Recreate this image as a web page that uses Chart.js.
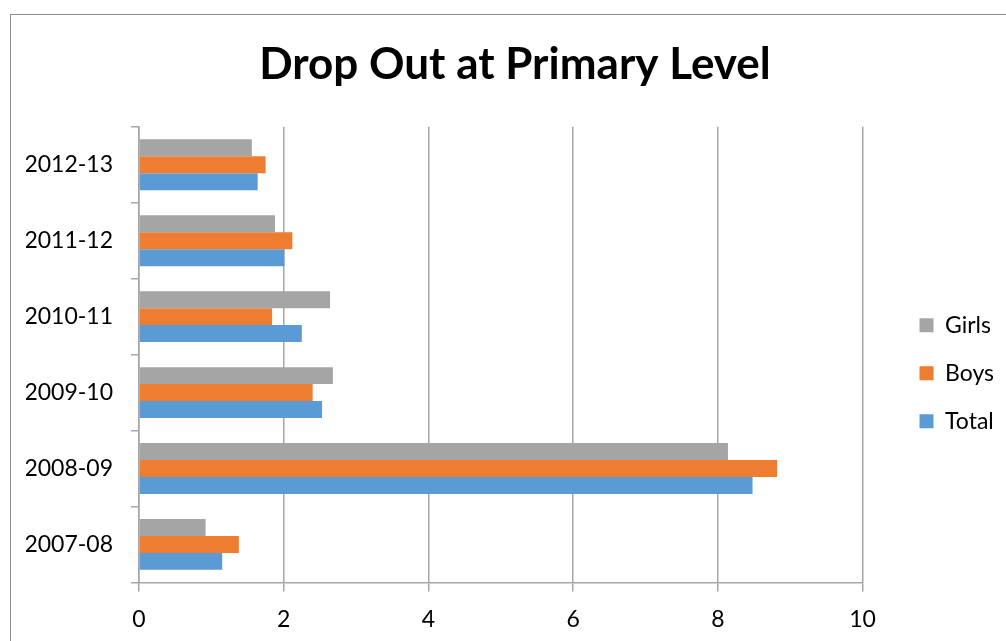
<!DOCTYPE html>
<html>
<head>
<meta charset="utf-8">
<title>Drop Out at Primary Level</title>
<script src="https://cdn.jsdelivr.net/npm/chart.js@4"></script>
<style>
  html, body { margin: 0; padding: 0; background: #fff; overflow: hidden; width: 1006px; height: 641px; }
  #frame { position: absolute; left: 10px; top: 14px; width: 1030px; height: 640px; border: 1px solid #8c8c8c; background: #fff; }
  #wrap { position: absolute; left: 0; top: 0; width: 1011px; height: 626px; }
</style>
</head>
<body>
<div id="frame"><div id="wrap"><canvas id="chart"></canvas></div></div>
<script>
// Drop-out rates at primary level, per school year
const years = ['2007-08', '2008-09', '2009-10', '2010-11', '2011-12', '2012-13'];
const girls = [0.92, 8.14, 2.68, 2.64, 1.88, 1.56];
const boys  = [1.38, 8.82, 2.40, 1.84, 2.12, 1.75];
const total = [1.15, 8.48, 2.53, 2.25, 2.01, 1.64];
const xTicks = [0, 2, 4, 6, 8, 10];

const FONT = 'Lato, "Open Sans", sans-serif';
const GRID = '#a6a6a6';

const makeSet = (label, data, color) => ({
  label, data,
  backgroundColor: color,
  borderWidth: 0,
  categoryPercentage: 0.67,
  barPercentage: 1.0
});

new Chart(document.getElementById('chart'), {
  type: 'bar',
  data: {
    labels: years,
    datasets: [
      makeSet('Girls', girls, '#a5a5a5'),
      makeSet('Boys', boys, '#ed7d31'),
      makeSet('Total', total, '#5b9bd5')
    ]
  },
  options: {
    indexAxis: 'y',
    responsive: true,
    maintainAspectRatio: false,
    animation: false,
    layout: { padding: { left: 15, right: 18, top: 0, bottom: -6 } },
    plugins: {
      title: {
        display: true,
        text: 'Drop Out at Primary Level',
        color: '#000',
        font: { family: FONT, size: 44, weight: 'bold' },
        padding: { top: 23, bottom: 36 }
      },
      legend: {
        position: 'right',
        // empty title only pushes the legend entries down
        title: { display: true, text: '', padding: { top: 70, bottom: 0 } },
        labels: {
          color: '#000',
          font: { family: FONT, size: 23 },
          boxWidth: 14,
          boxHeight: 14,
          padding: 25
        }
      },
      tooltip: { enabled: false }
    },
    scales: {
      x: {
        min: 0,
        max: 10,
        afterBuildTicks: s => { s.ticks = xTicks.map(v => ({ value: v })); },
        ticks: { color: '#000', font: { family: FONT, size: 23 }, padding: 14 },
        grid: { color: GRID, lineWidth: 1.5, tickLength: 9 },
        border: { color: GRID, width: 1.5 }
      },
      y: {
        reverse: true,
        offset: true,
        afterFit: s => { s.width = 113; },
        ticks: { color: '#000', font: { family: FONT, size: 23 }, padding: 18 },
        grid: { offset: true, drawOnChartArea: false, color: GRID, lineWidth: 1.5, tickLength: 8 },
        border: { color: GRID, width: 1.5 }
      },
      // empty spacer between plot and legend
      gap: {
        type: 'category',
        axis: 'y',
        position: 'right',
        grid: { display: false },
        border: { display: false },
        ticks: { display: false },
        afterFit: s => { s.width = 32; }
      }
    }
  }
});
</script>
</body>
</html>
